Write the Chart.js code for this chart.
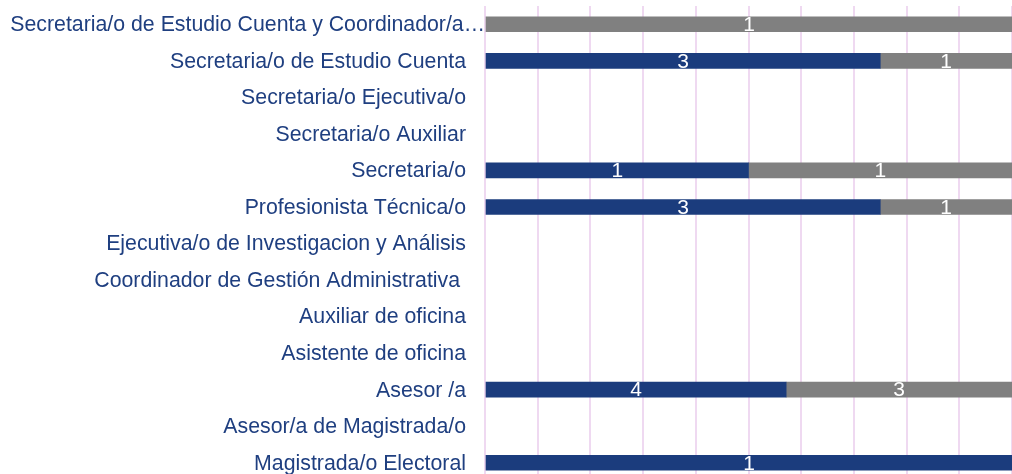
<!DOCTYPE html>
<html>
<head>
<meta charset="utf-8">
<script src="https://cdn.jsdelivr.net/npm/chart.js@4.4.1/dist/chart.umd.min.js"></script>
<style>
  html, body { margin: 0; padding: 0; background: #fff; overflow: hidden; }
  #wrap { width: 1012px; height: 474px; overflow: hidden; position: relative; }
  #box { width: 1012px; height: 481px; position: absolute; left: 0; top: 0; }
</style>
</head>
<body>
<div id="wrap"><div id="box"><canvas id="chart"></canvas></div></div>
<script>
// ── data (top to bottom) ──
const CATEGORIES = [
  'Secretaria/o de Estudio Cuenta y Coordinador/a…',
  'Secretaria/o de Estudio Cuenta',
  'Secretaria/o Ejecutiva/o',
  'Secretaria/o Auxiliar',
  'Secretaria/o',
  'Profesionista Técnica/o',
  'Ejecutiva/o de Investigacion y Análisis',
  'Coordinador de Gestión Administrativa ',
  'Auxiliar de oficina',
  'Asistente de oficina',
  'Asesor /a',
  'Asesor/a de Magistrada/o',
  'Magistrada/o Electoral',
];
const BLUE_COUNTS = [0, 3, 0, 0, 1, 3, 0, 0, 0, 0, 4, 0, 1];
const GRAY_COUNTS = [1, 1, 0, 0, 1, 1, 0, 0, 0, 0, 3, 0, 0];

const BLUE = '#1b3c7d';
const GRAY = '#808080';
const LABEL_COLOR = '#1f3f80';
const GRID = '#efd9f1';
const FONT = '"Liberation Sans", Arial, sans-serif';

// 100% stacked: share of each row total
function share(counts, i) {
  const tot = BLUE_COUNTS[i] + GRAY_COUNTS[i];
  return tot > 0 && counts[i] > 0 ? counts[i] / tot * 100 : null;
}
const bluePct = BLUE_COUNTS.map((_, i) => share(BLUE_COUNTS, i));
const grayPct = GRAY_COUNTS.map((_, i) => share(GRAY_COUNTS, i));

// category names, right aligned; the clipped first one runs up to the axis
const catLabels = {
  id: 'catLabels',
  afterDraw(chart) {
    const ctx = chart.ctx;
    const y = chart.scales.y;
    const left = chart.chartArea.left;
    ctx.save();
    ctx.fillStyle = LABEL_COLOR;
    ctx.font = '21.3px ' + FONT;
    ctx.textAlign = 'right';
    ctx.textBaseline = 'middle';
    CATEGORIES.forEach((c, i) => {
      const x = i === 0 ? left : left - 19;
      ctx.fillText(c, x, y.getPixelForValue(i) + 1);
    });
    ctx.restore();
  },
};

// white count labels in the middle of each segment
const segLabels = {
  id: 'segLabels',
  afterDatasetsDraw(chart) {
    const ctx = chart.ctx;
    const raw = [BLUE_COUNTS, GRAY_COUNTS];
    ctx.save();
    ctx.fillStyle = '#fff';
    ctx.font = '21px ' + FONT;
    ctx.textAlign = 'center';
    ctx.textBaseline = 'middle';
    chart.data.datasets.forEach((ds, di) => {
      chart.getDatasetMeta(di).data.forEach((bar, i) => {
        if (ds.data[i] == null) return;
        const p = bar.getProps(['x', 'y', 'base'], true);
        ctx.fillText(String(raw[di][i]), (p.x + p.base) / 2, p.y + 1);
      });
    });
    ctx.restore();
  },
};

new Chart(document.getElementById('chart'), {
  type: 'bar',
  data: {
    labels: CATEGORIES,
    datasets: [
      { label: 'A', data: bluePct, backgroundColor: BLUE, barThickness: 15 },
      { label: 'B', data: grayPct, backgroundColor: GRAY, barThickness: 15 },
    ],
  },
  options: {
    indexAxis: 'y',
    responsive: true,
    maintainAspectRatio: false,
    animation: false,
    layout: { padding: { top: 6, right: 0, bottom: 0, left: 0 } },
    plugins: { legend: { display: false }, tooltip: { enabled: false } },
    scales: {
      x: {
        stacked: true, min: 0, max: 100,
        ticks: { display: false, stepSize: 10 },
        border: { display: false },
        grid: { color: GRID, lineWidth: 2, drawTicks: false },
        afterFit: s => { s.height = 0; s.paddingLeft = 0; s.paddingRight = 0; },
      },
      y: {
        stacked: true,
        grid: { display: false, drawTicks: false },
        border: { display: false },
        ticks: { display: false },
        afterFit: s => { s.width = 485; s.paddingTop = 0; s.paddingBottom = 0; },
      },
    },
  },
  plugins: [segLabels, catLabels],
});
</script>
</body>
</html>
